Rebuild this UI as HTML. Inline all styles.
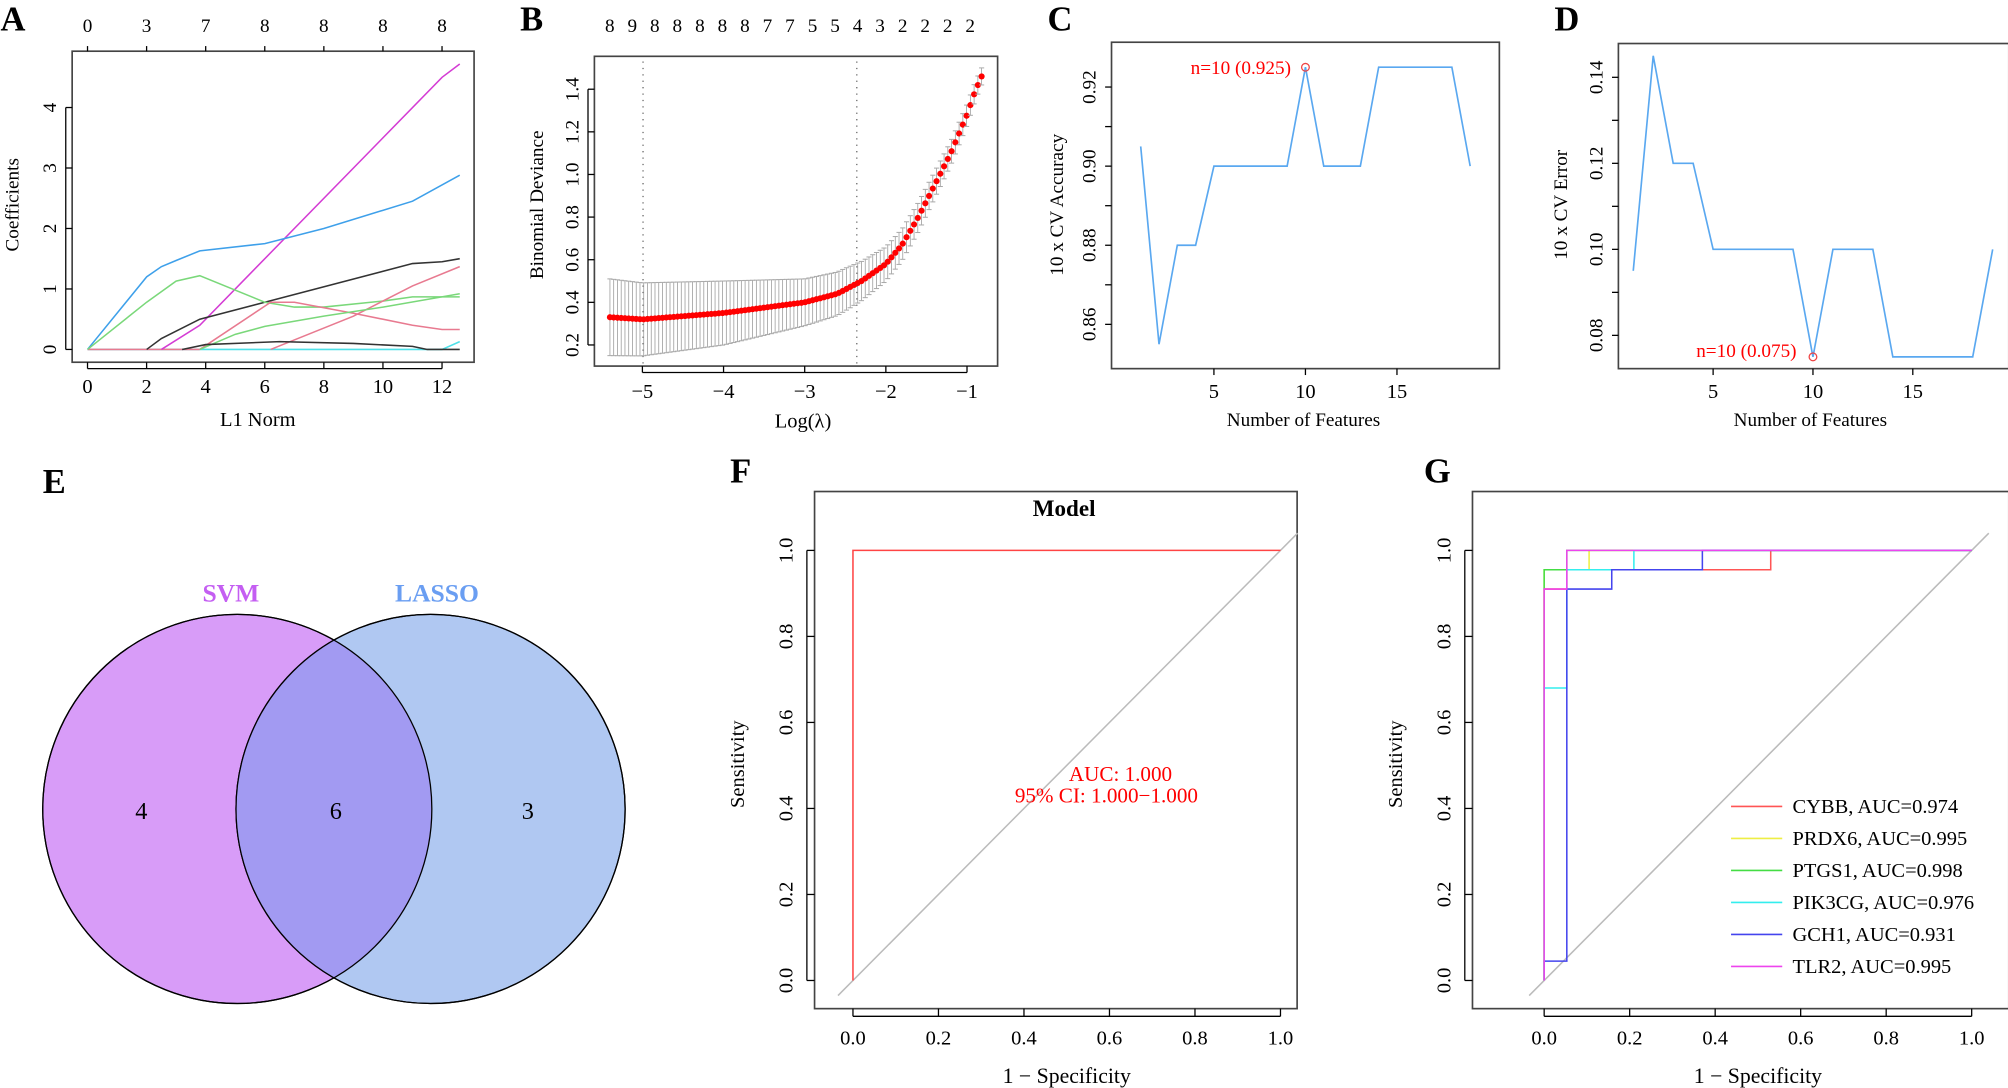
<!DOCTYPE html>
<html><head><meta charset="utf-8">
<style>
html,body{margin:0;padding:0;background:#fff;}
svg{display:block;font-family:"Liberation Serif",serif;}
</style></head>
<body>
<svg id="s" width="2008" height="1088" viewBox="0 0 1568 850" xmlns="http://www.w3.org/2000/svg">
<rect width="1568" height="850" fill="#fff"/>
<circle cx="185" cy="632" r="152" fill="#d89cf8" stroke="#000" stroke-width="1"/>
<circle cx="336" cy="632" r="152" fill="#b0c8f2" stroke="#000" stroke-width="1"/>
<clipPath id="cp"><circle cx="185" cy="632" r="152"/></clipPath>
<circle cx="336" cy="632" r="152" fill="#a29af2" clip-path="url(#cp)"/>
<circle cx="185" cy="632" r="152" fill="none" stroke="#000" stroke-width="1"/>
<circle cx="336" cy="632" r="152" fill="none" stroke="#000" stroke-width="1"/>
<text x="180" y="470" font-size="20" font-weight="bold" fill="#c45ef2" text-anchor="middle">SVM</text>
<text x="341" y="470" font-size="20" font-weight="bold" fill="#6a9ef2" text-anchor="middle">LASSO</text>
<text x="110" y="640" font-size="19" text-anchor="middle">4</text>
<text x="262" y="640" font-size="19" text-anchor="middle">6</text>
<text x="412" y="640" font-size="19" text-anchor="middle">3</text>
<g font-size="27" font-weight="bold">
<text x="0" y="24">A</text><text x="406" y="24">B</text><text x="818" y="24">C</text><text x="1214" y="24">D</text>
<text x="33" y="385">E</text><text x="570" y="377">F</text><text x="1112" y="377">G</text>
</g>
</svg>
<script>
const S=document.getElementById('s');const NS='http://www.w3.org/2000/svg';
function el(t,a,txt){const e=document.createElementNS(NS,t);for(const k in a)e.setAttribute(k,a[k]);if(txt!==undefined)e.textContent=txt;S.appendChild(e);return e;}
function pl(pts,col,w,extra){const a={points:pts.map(p=>p[0].toFixed(1)+','+p[1].toFixed(1)).join(' '),fill:'none',stroke:col,'stroke-width':w||1};Object.assign(a,extra||{});return el('polyline',a);}
function line(x1,y1,x2,y2,col,w,extra){const a={x1,y1,x2,y2,stroke:col||'#000','stroke-width':w||1};Object.assign(a,extra||{});return el('line',a);}
function txt(x,y,s,sz,extra){const a={x,y,'font-size':sz,'text-anchor':'middle'};Object.assign(a,extra||{});return el('text',a,s);}
function rtxt(x,y,s,sz,extra){const a={x,y,'font-size':sz,'text-anchor':'middle',transform:`rotate(-90 ${x} ${y})`};Object.assign(a,extra||{});return el('text',a,s);}
function box(l,t,r,b){el('rect',{x:l,y:t,width:r-l,height:b-t,fill:'none',stroke:'#444','stroke-width':1.3});}

// A
{const X=v=>68+23.08*v,Y=v=>273-47.25*v;box(56,40,370,283);
[0,2,4,6,8,10,12].forEach((v,i)=>{line(X(v),283,X(v),288,'#000');txt(X(v),307,String(v),16);line(X(v),40,X(v),36,'#000');txt(X(v),25,['0','3','7','8','8','8','8'][i],15);});
line(68,288,345,288,'#000');line(51,Y(0),51,Y(4),'#000');
[0,1,2,3,4].forEach(v=>{line(51,Y(v),56,Y(v),'#000');rtxt(40,Y(v),String(v),15,{'dominant-baseline':'middle'});});
txt(201,333,'L1 Norm',16);rtxt(14,160,'Coefficients',15);
const C=(pts,col)=>pl(pts.map(p=>[X(p[0]),Y(p[1])]),col,1.2);
C([[0,0],[12,0],[12.6,0.13]],'#4fe0e8');
C([[0,0],[3.8,0]],'#e87a90');
C([[2.5,0],[3.8,0.4],[12,4.5],[12.6,4.72]],'#d43cd4');
C([[0,0],[2,1.2],[2.5,1.37],[3,1.47],[3.8,1.63],[6,1.75],[8,2.0],[11,2.45],[12.6,2.88]],'#3ea0ea');
C([[2,0],[2.5,0.18],[3.8,0.5],[6,0.78],[11,1.42],[12,1.45],[12.6,1.5]],'#333');
C([[0,0],[2,0.78],[3,1.13],[3.8,1.22],[6,0.78],[7,0.7],[8,0.7],[10,0.8],[11,0.87],[12.6,0.87]],'#7ad87a');
C([[3.8,0],[6.2,0.78],[7,0.78],[9,0.6],[11,0.4],[12,0.33],[12.6,0.33]],'#e87a90');
C([[6.2,0],[9,0.55],[11,1.05],[12.6,1.37]],'#e87a90');
C([[3.8,0],[5,0.25],[6,0.38],[8,0.55],[10,0.7],[12.6,0.92]],'#7ad87a');
C([[3.2,0],[4,0.08],[6.5,0.13],[9,0.1],[11,0.05],[11.5,0],[12.6,0]],'#333');
}
// B
{const X=v=>501.5+63.4*(v+5),Y=v=>269.5-166.5*(v-0.2);box(464,44,779,286);
[-5,-4,-3,-2,-1].forEach(v=>{line(X(v),286,X(v),291,'#000');txt(X(v),311,'\u2212'+(-v),16);});line(X(-5),291,X(-1),291,'#000');
[0.2,0.4,0.6,0.8,1.0,1.2,1.4].forEach(v=>{line(459,Y(v),464,Y(v),'#000');rtxt(448,Y(v),v.toFixed(1),15,{'dominant-baseline':'middle'});});line(459,Y(0.2),459,Y(1.4),'#000');
const tops='8 9 8 8 8 8 8 7 7 5 5 4 3 2 2 2 2'.split(' ');tops.forEach((t,i)=>txt(476+i*17.6,25,t,15));
txt(627,334,'Log(\u03bb)',16);rtxt(424,160,'Binomial Deviance',15);
line(502,48,502,284,'#666',1,{'stroke-dasharray':'1,4'});line(669,48,669,284,'#666',1,{'stroke-dasharray':'1,4'});
const interp=(tab,x)=>{for(let i=0;i<tab.length-1;i++){if(x<=tab[i+1][0]){const t=(x-tab[i][0])/(tab[i+1][0]-tab[i][0]);return tab[i][1]+t*(tab[i+1][1]-tab[i][1]);}}return tab[tab.length-1][1];};
const M=[[-5.4,.33],[-5,.32],[-4,.35],[-3,.40],[-2.6,.44],[-2.3,.50],[-2,.58],[-1.8,.67],[-1.6,.80],[-1.4,.95],[-1.2,1.10],[-1.0,1.28],[-0.9,1.39],[-0.82,1.46]];
const SD=[[-5.4,.18],[-4,.15],[-3,.11],[-2.5,.1],[-2,.08],[-1,.05],[-.82,.04]];
const N=100;
for(let i=0;i<N;i++){const x=-5.4+i*(4.58/(N-1));const m=interp(M,x),s=interp(SD,x);const px=X(x);
line(px,Y(m+s),px,Y(m-s),'#999',0.6);line(px-2,Y(m+s),px+2,Y(m+s),'#aaa',0.8);line(px-2,Y(m-s),px+2,Y(m-s),'#aaa',0.8);
el('circle',{cx:px,cy:Y(m),r:2.4,fill:'#f00'});}
}
// C
{const X=v=>948+14.3*(v-5),Y=v=>68-3090*(v-0.92);box(868,33,1171,288);
[5,10,15].forEach(v=>{line(X(v),288,X(v),293,'#000');txt(X(v),311,String(v),16);});
[0.86,0.87,0.88,0.89,0.90,0.91,0.92].forEach((v,i)=>{line(863,Y(v),868,Y(v),'#000');if(i%2==0)rtxt(852,Y(v),v.toFixed(2),15,{'dominant-baseline':'middle'});});
txt(1018,333,'Number of Features',15);rtxt(830,160,'10 x CV Accuracy',15);
const d=[0.905,0.855,0.88,0.88,0.9,0.9,0.9,0.9,0.9,0.925,0.9,0.9,0.9,0.925,0.925,0.925,0.925,0.925,0.9];
pl(d.map((v,i)=>[X(i+1),Y(v)]),'#5aa8f0',1.3);
el('circle',{cx:X(10),cy:Y(0.925),r:3,fill:'none',stroke:'#e44','stroke-width':1});
txt(969,58,'n=10 (0.925)',15,{fill:'#f00'});
}
// D
{const X=v=>1338+15.6*(v-5),Y=v=>60.4-3360*(v-0.14);box(1264,34,1569,288);
[5,10,15].forEach(v=>{line(X(v),288,X(v),293,'#000');txt(X(v),311,String(v),16);});
[0.08,0.09,0.10,0.11,0.12,0.13,0.14].forEach((v,i)=>{line(1259,Y(v),1264,Y(v),'#000');if(i%2==0)rtxt(1248,Y(v),v.toFixed(2),15,{'dominant-baseline':'middle'});});
txt(1414,333,'Number of Features',15);rtxt(1224,160,'10 x CV Error',15);
const d=[0.095,0.145,0.12,0.12,0.1,0.1,0.1,0.1,0.1,0.075,0.1,0.1,0.1,0.075,0.075,0.075,0.075,0.075,0.1];
pl(d.map((v,i)=>[X(i+1),Y(v)]),'#5aa8f0',1.3);
el('circle',{cx:X(10),cy:Y(0.075),r:3,fill:'none',stroke:'#e44','stroke-width':1});
txt(1364,279,'n=10 (0.075)',15,{fill:'#f00'});
}
function rocAxes(l,r,x0,x1){const X=v=>x0+(x1-x0)*v,Y=v=>766-336*v;box(l,384,r,788);
[0,0.2,0.4,0.6,0.8,1.0].forEach(v=>{line(X(v),788,X(v),794,'#000');txt(X(v),816,v.toFixed(1),16);line(l-6,Y(v),l,Y(v),'#000');rtxt(l-21,Y(v),v.toFixed(1),16,{'dominant-baseline':'middle'});});
line(X(0),794,X(1),794,'#000');line(l-6,Y(0),l-6,Y(1),'#000');
txt(X(0.5),846,'1 \u2212 Specificity',17);rtxt(l-55,597,'Sensitivity',16);
line(X(-0.035),Y(-0.035),X(1.04),Y(1.04),'#bbb',1.2);
return [X,Y];}
{const [X,Y]=rocAxes(636,1013,666,1000);
txt(831,403,'Model',18,{'font-weight':'bold'});
pl([[X(0),Y(0)],[X(0),Y(1)],[X(1),Y(1)]],'#f44',1.2);
txt(875,610,'AUC: 1.000',16.5,{fill:'#f00'});txt(864,627,'95% CI: 1.000\u22121.000',16.5,{fill:'#f00'});
}
{const [X,Y]=rocAxes(1150,1569,1206,1540);
const C=(pts,col)=>pl(pts.map(p=>[X(p[0]),Y(p[1])]),col,1.2);
C([[0,0],[0,0.91],[0.053,0.91],[0.053,0.955],[0.53,0.955],[0.53,1],[1,1]],'#f55');
C([[0,0],[0,0.955],[0.105,0.955],[0.105,1],[1,1]],'#eeee44');
C([[0,0],[0,0.955],[0.053,0.955],[0.053,1],[1,1]],'#4d4');
C([[0,0],[0,0.68],[0.053,0.68],[0.053,0.955],[0.21,0.955],[0.21,1],[1,1]],'#3ee');
C([[0,0],[0,0.045],[0.053,0.045],[0.053,0.91],[0.158,0.91],[0.158,0.955],[0.37,0.955],[0.37,1],[1,1]],'#44e');
C([[0,0],[0,0.91],[0.053,0.91],[0.053,1],[1,1]],'#e4e');
const L=[['CYBB, AUC=0.974','#f55'],['PRDX6, AUC=0.995','#eeee44'],['PTGS1, AUC=0.998','#4d4'],['PIK3CG, AUC=0.976','#3ee'],['GCH1, AUC=0.931','#44e'],['TLR2, AUC=0.995','#e4e']];
L.forEach((d,i)=>{const y=630+25*i;line(1352,y,1392,y,d[1],1.3);el('text',{x:1400,y:y+5,'font-size':16},d[0]);});
}
</script>
</body></html>
